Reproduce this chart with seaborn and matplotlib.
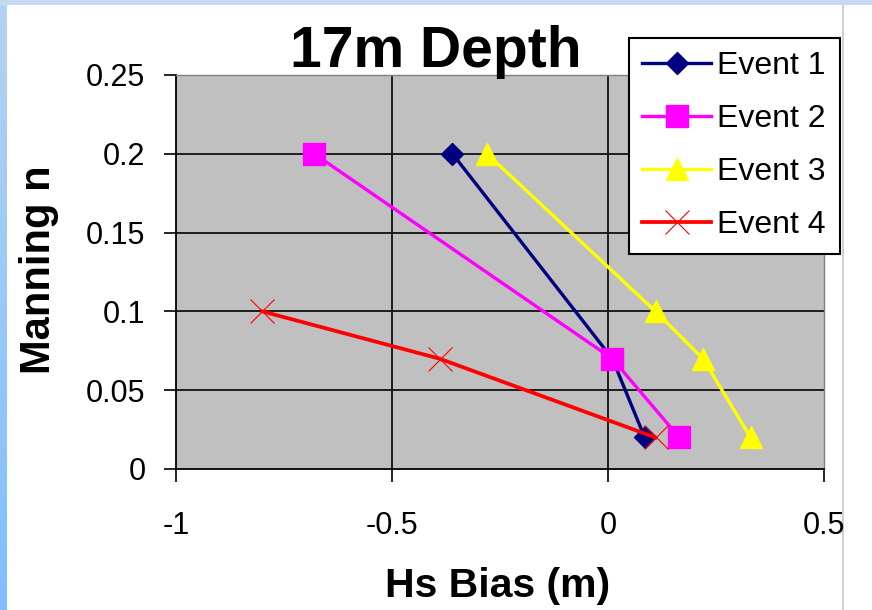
import numpy as np
import pandas as pd
import matplotlib
matplotlib.use("Agg")
import matplotlib.pyplot as plt
from matplotlib.patches import Rectangle
import seaborn as sns

# Series values: Hs bias (m) against Manning n, 17 m depth
event1_bias = [-0.36, 0.01, 0.085]
event1_n = [0.20, 0.07, 0.02]
event2_bias = [-0.68, 0.01, 0.165]
event2_n = [0.20, 0.07, 0.02]
event3_bias = [-0.28, 0.11, 0.22, 0.33]
event3_n = [0.20, 0.10, 0.07, 0.02]
event4_bias = [-0.80, -0.39, 0.11]
event4_n = [0.10, 0.07, 0.02]

series_names = ["Event 1", "Event 2", "Event 3", "Event 4"]
x_ticks = [-1, -0.5, 0, 0.5]
x_tick_labels = ["-1", "-0.5", "0", "0.5"]
y_ticks = [0, 0.05, 0.1, 0.15, 0.2, 0.25]
y_tick_labels = ["0", "0.05", "0.1", "0.15", "0.2", "0.25"]

frames = []
for name, xs, ys in zip(series_names,
                        [event1_bias, event2_bias, event3_bias, event4_bias],
                        [event1_n, event2_n, event3_n, event4_n]):
    frames.append(pd.DataFrame({"bias": xs, "n": ys, "event": name}))
df = pd.concat(frames, ignore_index=True)

styles = {
    "Event 1": dict(color="#000080", marker="D", markersize=11.5, linewidth=2.4,
                    markeredgewidth=1, markeredgecolor="#000080"),
    "Event 2": dict(color="#FF00FF", marker="s", markersize=15.5, linewidth=2.4,
                    markeredgewidth=1, markeredgecolor="#FF00FF"),
    "Event 3": dict(color="#FFFF00", marker="^", markersize=16.5, linewidth=2.4,
                    markeredgewidth=1, markeredgecolor="#FFFF00"),
    "Event 4": dict(color="#FF0000", marker="x", markersize=17, linewidth=2.7,
                    markeredgewidth=0.8, markeredgecolor="#FF0000"),
}

plt.rcParams["font.family"] = ["Liberation Sans", "DejaVu Sans"]

W, H = 872, 610
fig = plt.figure(figsize=(W / 100, H / 100), dpi=100)
fig.patch.set_facecolor("white")

# Window-like frame: blue strips on top and left, grey rule on the right
fig.add_artist(Rectangle((0, 1 - 5 / H), 1, 5 / H, transform=fig.transFigure,
                         facecolor="#C6D9F1", edgecolor="none", zorder=0))
fig.add_artist(Rectangle((842 / W, 0), 2 / W, 1 - 5 / H, transform=fig.transFigure,
                         facecolor="#D0D0D0", edgecolor="none", zorder=0))
strip = fig.add_axes([0, 0, 6 / W, 1 - 5 / H])
grad = np.linspace(0, 1, 256).reshape(-1, 1)
strip.imshow(grad, aspect="auto", extent=[0, 1, 0, 1], origin="lower",
             cmap=matplotlib.colors.LinearSegmentedColormap.from_list(
                 "edge", ["#7FBFFF", "#B4D2F2"]))
strip.set_axis_off()

ax = fig.add_axes([176 / W, 1 - 469 / H, (824 - 176) / W, (469 - 75) / H])
ax.set_facecolor("#C0C0C0")

for name in series_names:
    sub = df[df["event"] == name]
    sns.lineplot(data=sub, x="bias", y="n", ax=ax, sort=False, estimator=None,
                 errorbar=None, label=name, **styles[name])

ax.set_xlim(-1, 0.5)
ax.set_ylim(0, 0.25)
ax.set_xticks(x_ticks)
ax.set_xticklabels(x_tick_labels)
ax.set_yticks(y_ticks)
ax.set_yticklabels(y_tick_labels)

# Gridlines
for xv in x_ticks[1:-1]:
    ax.axvline(xv, color="#101010", linewidth=1.3, zorder=0.5)
for yv in y_ticks[1:-1]:
    ax.axhline(yv, color="#101010", linewidth=1.3, zorder=0.5)

ax.tick_params(axis="both", direction="out", length=9, width=1.2, color="black",
               labelsize=22)
ax.tick_params(axis="y", pad=13)
ax.tick_params(axis="x", pad=21)

for side in ["left", "bottom"]:
    ax.spines[side].set_color("black")
    ax.spines[side].set_linewidth(1.3)
for side in ["top", "right"]:
    ax.spines[side].set_color("#808080")
    ax.spines[side].set_linewidth(1.0)

ax.set_xlabel("")
ax.set_ylabel("")
fig.text(498 / W, 1 - 597 / H, "Hs Bias (m)", ha="center", va="baseline",
         fontsize=29.5, fontweight="bold")
fig.text(39 / W, 1 - 270 / H, "Manning n", ha="center", va="center",
         rotation=90, fontsize=30, fontweight="bold")
fig.text(436 / W, 1 - 67 / H, "17m Depth", ha="center", va="baseline",
         fontsize=41, fontweight="bold")

leg = ax.legend(loc="upper left", bbox_to_anchor=(629 / W, 1 - 38 / H),
                bbox_transform=fig.transFigure, borderaxespad=0,
                fontsize=23, frameon=True, fancybox=False, framealpha=1,
                edgecolor="black", borderpad=0.42, labelspacing=0.72,
                handlelength=2.15, handletextpad=0.2)
leg.get_frame().set_linewidth(1.5)

fig.savefig("out.png", dpi=100)
